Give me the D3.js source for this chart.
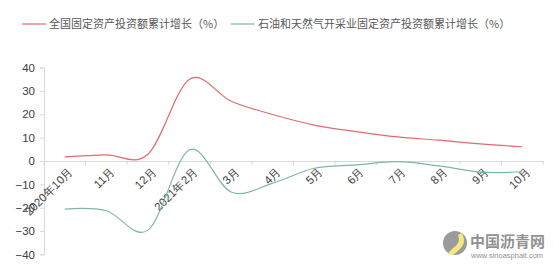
<!DOCTYPE html>
<html><head><meta charset="utf-8">
<script src="https://cdn.jsdelivr.net/npm/d3@7"></script>
<style>body{margin:0;background:#fff;}svg{display:block;font-family:"Noto Sans CJK SC","Microsoft YaHei",sans-serif;}</style>
</head><body>
<svg id="c" width="559" height="277"></svg>
<script>
const categories = ["2020年10月","11月","12月","2021年2月","3月","4月","5月","6月","7月","8月","9月","10月"];
const nationalGrowth = [1.8, 2.6, 2.9, 35.0, 25.6, 19.9, 15.4, 12.6, 10.3, 8.9, 7.3, 6.1];
const oilGasGrowth = [-20.6, -21.3, -29.6, 4.8, -13.3, -9.5, -3.1, -1.7, -0.3, -2.1, -4.8, -4.6];
const yTicks = [40, 30, 20, 10, 0, -10, -20, -30, -40];
const seriesNames = ["全国固定资产投资额累计增长（%）", "石油和天然气开采业固定资产投资额累计增长（%）"];
const colors = ["#e06b6b", "#7fb8a2"];

const svg = d3.select("#c");
const x = d3.scaleBand().domain(categories).range([44, 543]);
const y = d3.scaleLinear().domain([-40, 40]).range([254.4, 67.6]);

// y axis
const gy = svg.append("g").attr("transform", "translate(44,0)")
  .call(d3.axisLeft(y).tickValues(yTicks).tickSize(4).tickPadding(5));
gy.select(".domain").attr("stroke", "#d9d9d9");
gy.selectAll(".tick line").attr("stroke", "#d9d9d9");
gy.selectAll(".tick text").attr("fill", "#404040").style("font-size", "11.5px").style("font-family", "Liberation Sans, Arial, sans-serif");

// x axis at zero
const gx = svg.append("g").attr("transform", `translate(0,${y(0)})`)
  .call(d3.axisBottom(x).tickValues([]).tickSizeOuter(0));
gx.select(".domain").attr("stroke", "#d9d9d9");
const bounds = categories.map(c => x(c)).concat([x.range()[1]]);
gx.selectAll(".bt").data(bounds).enter().append("line")
  .attr("x1", d => d).attr("x2", d => d).attr("y1", 0).attr("y2", 4).attr("stroke", "#d9d9d9");
gx.selectAll(".lbl").data(categories).enter().append("text")
  .attr("transform", d => `translate(${x(d) + x.bandwidth()/2 + 3},5) rotate(-45)`)
  .attr("text-anchor", "end").attr("dy", "0.75em")
  .attr("fill", "#404040").style("font-size", "11.5px")
  .text(d => d);

const line = d3.line()
  .x((d, i) => x(categories[i]) + x.bandwidth()/2)
  .y(d => y(d))
  .curve(d3.curveCardinal.tension(0));

[nationalGrowth, oilGasGrowth].forEach((s, k) => {
  svg.append("path").attr("d", line(s)).attr("fill", "none")
    .attr("stroke", colors[k]).attr("stroke-width", 1.2);
});

// legend
const legendX = [22, 231];
seriesNames.forEach((n, k) => {
  svg.append("line").attr("x1", legendX[k]).attr("x2", legendX[k] + 24)
    .attr("y1", 24).attr("y2", 24).attr("stroke", colors[k]).attr("stroke-width", 1.2);
  svg.append("text").attr("x", legendX[k] + 27).attr("y", 24).attr("dy", "0.35em")
    .attr("fill", "#595959").style("font-size", "11px").text(n);
});

// watermark
const wm = svg.append("g").attr("opacity", 0.85);
wm.append("circle").attr("cx", 455).attr("cy", 243).attr("r", 12).attr("fill", "#8a8a8a");
wm.append("path").attr("d", "M448,254 C453,246 462,245 458,235 L462,233 C468,245 459,250 453,255 Z").attr("fill", "#f3e66b");
wm.append("text").attr("x", 470).attr("y", 247).attr("fill", "#808080")
  .style("font-size", "15px").style("font-weight", "bold").text("中国沥青网");
wm.append("text").attr("x", 471).attr("y", 258).attr("fill", "#808080")
  .style("font-size", "7.5px").style("font-family", "Liberation Sans, Arial, sans-serif").text("www.sinoasphalt.com");
</script>
</body></html>
